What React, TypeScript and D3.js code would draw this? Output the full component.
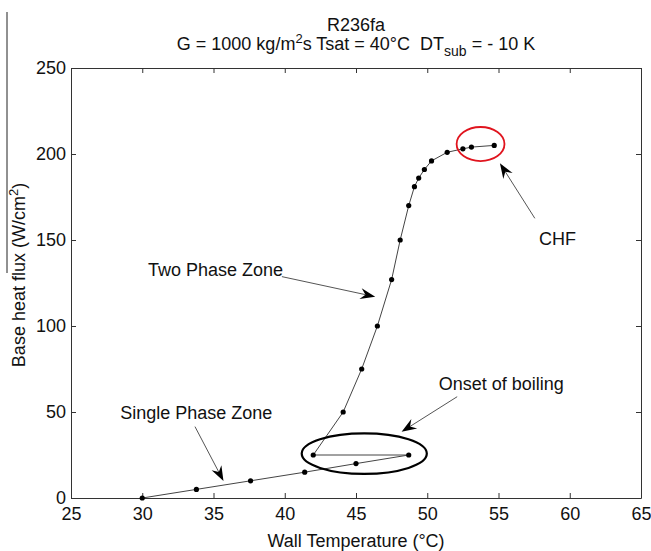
import React, { useRef, useEffect } from 'react';
import * as d3 from 'd3';

// measured points, wall temperature (°C) vs base heat flux (W/cm2)
const wallTemp = [30, 33.8, 37.6, 41.4, 45.0, 48.7, 42.0, 44.1, 45.4, 46.5, 47.5, 48.1, 48.7, 49.1, 49.4, 49.8, 50.3, 51.4, 52.5, 53.1, 54.7];
const heatFlux = [0, 5, 10, 15, 20, 25, 25, 50, 75, 100, 127, 150, 170, 181, 186, 191, 196, 201, 203, 204, 205];

const xTicks = [25, 30, 35, 40, 45, 50, 55, 60, 65];
const yTicks = [0, 50, 100, 150, 200, 250];

// annotation text + arrows, in data units
const noteLabels = ['Single Phase Zone', 'Two Phase Zone', 'Onset of boiling', 'CHF'];
const noteTextAt = [[28.45, 45.9], [30.4, 129.1], [50.8, 62.8], [57.85, 147.1]];
const arrowFrom = [[33.7, 41.5], [39.8, 128.7], [52.1, 58.9], [57.55, 162.6]];
const arrowTo = [[35.7, 9.9], [46.35, 117.0], [48.2, 38.5], [55.1, 194.6]];

// highlight ellipses: center, radii (data units), colour
const ellipseCenter = [[45.58, 25.8], [53.74, 205.8]];
const ellipseRadius = [[4.39, 11.8], [1.68, 9.9]];
const ellipseColor = ['#000', '#e0141e'];

const FONT = '"Liberation Sans", Arial, sans-serif';

const Chart = () => {
  const svgRef = useRef(null);
  useEffect(() => {
    const svg = d3.select(svgRef.current);
    svg.selectAll('*').remove();

    const left = 71, right = 641, top = 68, bottom = 498;
    const x = d3.scaleLinear().domain([25, 65]).range([left, right]);
    const y = d3.scaleLinear().domain([0, 250]).range([bottom, top]);

    svg.append('rect').attr('width', 651).attr('height', 551).attr('fill', '#fff');

    // stray line at left edge of the scan
    svg.append('line')
      .attr('x1', 7).attr('x2', 7).attr('y1', 12).attr('y2', 273)
      .attr('stroke', '#222').attr('stroke-width', 1);

    const styleAxis = (g) => {
      g.selectAll('path, line').attr('stroke', '#333');
      g.selectAll('text').attr('font-family', FONT).attr('font-size', 18).attr('fill', '#111');
    };

    svg.append('g').attr('transform', `translate(0,${bottom})`)
      .call(d3.axisBottom(x).tickValues(xTicks).tickSizeInner(-5).tickSizeOuter(0).tickPadding(9))
      .call(styleAxis);
    svg.append('g').attr('transform', `translate(0,${top})`)
      .call(d3.axisTop(x).tickValues(xTicks).tickSizeInner(-5).tickSizeOuter(0).tickFormat(() => ''))
      .call(styleAxis);
    svg.append('g').attr('transform', `translate(${left},0)`)
      .call(d3.axisLeft(y).tickValues(yTicks).tickSizeInner(-5).tickSizeOuter(0).tickPadding(5))
      .call(styleAxis);
    svg.append('g').attr('transform', `translate(${right},0)`)
      .call(d3.axisRight(y).tickValues(yTicks).tickSizeInner(-5).tickSizeOuter(0).tickFormat(() => ''))
      .call(styleAxis);

    const pts = wallTemp.map((t, i) => [t, heatFlux[i]]);
    const line = d3.line().x(d => x(d[0])).y(d => y(d[1]));
    svg.append('path').attr('d', line(pts))
      .attr('fill', 'none').attr('stroke', '#444').attr('stroke-width', 1);
    svg.selectAll('circle.pt').data(pts).join('circle')
      .attr('class', 'pt')
      .attr('cx', d => x(d[0])).attr('cy', d => y(d[1])).attr('r', 2.6)
      .attr('fill', '#000');

    ellipseCenter.forEach((c, i) => {
      svg.append('ellipse')
        .attr('cx', x(c[0])).attr('cy', y(c[1]))
        .attr('rx', x(c[0] + ellipseRadius[i][0]) - x(c[0]))
        .attr('ry', y(c[1]) - y(c[1] + ellipseRadius[i][1]))
        .attr('fill', 'none').attr('stroke', ellipseColor[i])
        .attr('stroke-width', i === 0 ? 2.2 : 1.8);
    });

    // arrows with notched heads
    arrowFrom.forEach((f, i) => {
      const x1 = x(f[0]), y1 = y(f[1]);
      const x2 = x(arrowTo[i][0]), y2 = y(arrowTo[i][1]);
      const len = Math.hypot(x2 - x1, y2 - y1);
      const ux = (x2 - x1) / len, uy = (y2 - y1) / len;
      const nx = -uy, ny = ux;
      const L = 15, W = 5.5, notch = 5;
      const bx = x2 - L * ux, by = y2 - L * uy;
      const mx = x2 - (L - notch) * ux, my = y2 - (L - notch) * uy;
      svg.append('line')
        .attr('x1', x1).attr('y1', y1).attr('x2', mx).attr('y2', my)
        .attr('stroke', '#555').attr('stroke-width', 1);
      svg.append('path')
        .attr('d', `M${x2},${y2}L${bx + W * nx},${by + W * ny}L${mx},${my}L${bx - W * nx},${by - W * ny}Z`)
        .attr('fill', '#000');
    });

    noteLabels.forEach((t, i) => {
      svg.append('text')
        .attr('x', x(noteTextAt[i][0])).attr('y', y(noteTextAt[i][1]))
        .attr('font-family', FONT).attr('font-size', 18).attr('fill', '#111')
        .text(t);
    });

    // titles
    const cx = (left + right) / 2;
    svg.append('text').attr('x', cx).attr('y', 31)
      .attr('text-anchor', 'middle').attr('font-family', FONT).attr('font-size', 18).attr('fill', '#111')
      .text('R236fa');
    const t2 = svg.append('text').attr('x', cx).attr('y', 50)
      .attr('text-anchor', 'middle').attr('font-family', FONT).attr('font-size', 18).attr('fill', '#111');
    t2.append('tspan').text('G = 1000 kg/m');
    t2.append('tspan').attr('dy', -7).attr('font-size', 13).text('2');
    t2.append('tspan').attr('dy', 7).text('s Tsat = 40°C\u00a0\u00a0DT');
    t2.append('tspan').attr('dy', 6).attr('font-size', 14).text('sub');
    t2.append('tspan').attr('dy', -6).text(' = - 10 K');

    svg.append('text').attr('x', cx).attr('y', 547)
      .attr('text-anchor', 'middle').attr('font-family', FONT).attr('font-size', 18).attr('fill', '#111')
      .text('Wall Temperature (°C)');

    const yl = svg.append('text')
      .attr('transform', `translate(25,${(top + bottom) / 2 - 8}) rotate(-90)`)
      .attr('text-anchor', 'middle').attr('font-family', FONT).attr('font-size', 18).attr('fill', '#111');
    yl.append('tspan').text('Base heat flux (W/cm');
    yl.append('tspan').attr('dy', -7).attr('font-size', 13).text('2');
    yl.append('tspan').attr('dy', 7).text(')');
  }, []);

  return (
    <svg ref={svgRef} width={651} height={551}
      style={{ position: 'absolute', left: 0, top: 0 }}>
    </svg>
  );
};

export default function App() {
  return <Chart />;
}
